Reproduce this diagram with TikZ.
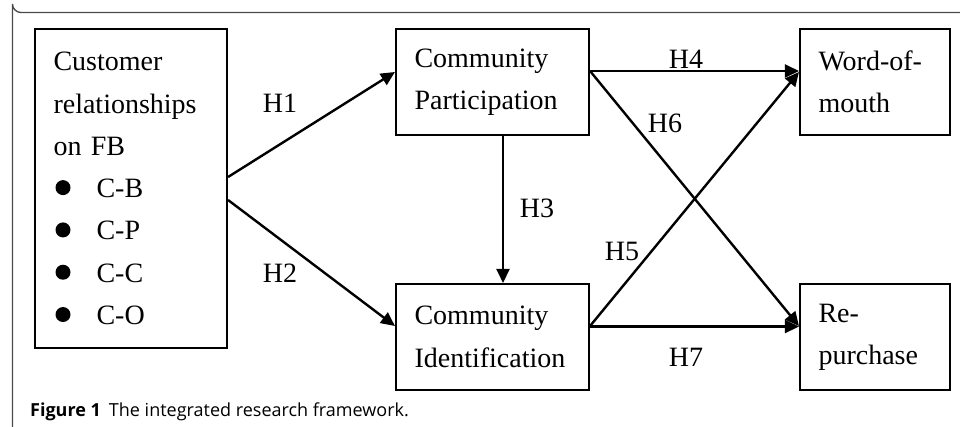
\documentclass[tikz,border=0pt]{standalone}
\usepackage{fontspec}
\setmainfont{Liberation Serif}
\newfontfamily\capfont{Open Sans}
\usetikzlibrary{arrows.meta,calc}
\definecolor{framegray}{HTML}{4A4A4A}
\tikzset{
  box/.style={draw, line width=2.1pt, rectangle, inner xsep=18.5pt, inner ysep=0pt,
    align=left, font=\fontsize{28}{42.3}\selectfont},
  conn/.style={line width=2.4pt, -{Triangle[length=14pt,width=13pt]}},
  hlab/.style={font=\fontsize{28}{34}\selectfont, inner sep=0pt}
}
\newcommand{\blt}{\hspace*{2pt}\raisebox{2.5pt}{\tikz\fill (0,0) circle (7.5pt);}\hspace*{26pt}}
\begin{document}
\begin{tikzpicture}[x=1pt,y=-1pt]
\useasboundingbox (0,0) rectangle (960,426);
\begin{scope}
\clip (0,0) rectangle (960,426);
\draw[framegray, line width=1.3pt] (975,12.5) -- (21,12.5) arc[start angle=90,end angle=180,radius=8.5] -- (12.5,440);
\end{scope}
% boxes
\node[box, minimum width=192pt, minimum height=319pt, text width=155pt] (cr) at (131,188.5)
 {Customer\\relationships\\on FB\\\blt C-B\\\blt C-P\\\blt C-C\\\blt C-O};
\node[box, minimum width=193pt, minimum height=106pt, text width=156pt] (cp) at (492.5,82)
 {Community\\Participation};
\node[box, minimum width=193pt, minimum height=106pt, text width=156pt] (ci) at (492.5,337)
 {Community\\Identification};
\node[box, minimum width=150pt, minimum height=106pt, text width=113pt] (wm) at (875,82)
 {Word-of-\\mouth};
\node[box, minimum width=150pt, minimum height=106pt, text width=113pt] (rp) at (875,337)
 {Re-\\purchase};
% connectors
\draw[conn] ($(cr.east)+(0,-11.5)$) -- ($(cp.west)+(0,-10)$);
\draw[conn] ($(cr.east)+(0,11.5)$) -- ($(ci.west)+(0,-11)$);
\draw[conn] ($(cp.south)+(10.5,0)$) -- ($(ci.north)+(10.5,0)$);
\draw[conn] ($(cp.east)+(0,-11)$) -- ($(wm.west)+(0,-11)$);
\draw[conn] ($(cp.east)+(0,-11)$) -- ($(rp.west)+(0,-11)$);
\draw[conn] ($(ci.east)+(0,-11)$) -- ($(wm.west)+(0,-10)$);
\draw[conn] ($(ci.east)+(0,-10.5)$) -- ($(rp.west)+(0,-10.5)$);
% labels
\node[hlab] (h1) at (280,103) {H1};
\node[hlab] (h2) at (280,273) {H2};
\node[hlab] (h3) at (537,208) {H3};
\node[hlab] (h4) at (686,59) {H4};
\node[hlab] (h6) at (665,123) {H6};
\node[hlab] (h5) at (622,251) {H5};
\node[hlab] (h7) at (686,357) {H7};
% caption
\node[anchor=base west, inner sep=0pt, font=\capfont\fontsize{18}{20}\selectfont] (cap) at (30,416)
 {\textbf{Figure 1}\hspace{8pt}The integrated research framework.};
\end{tikzpicture}
\end{document}
